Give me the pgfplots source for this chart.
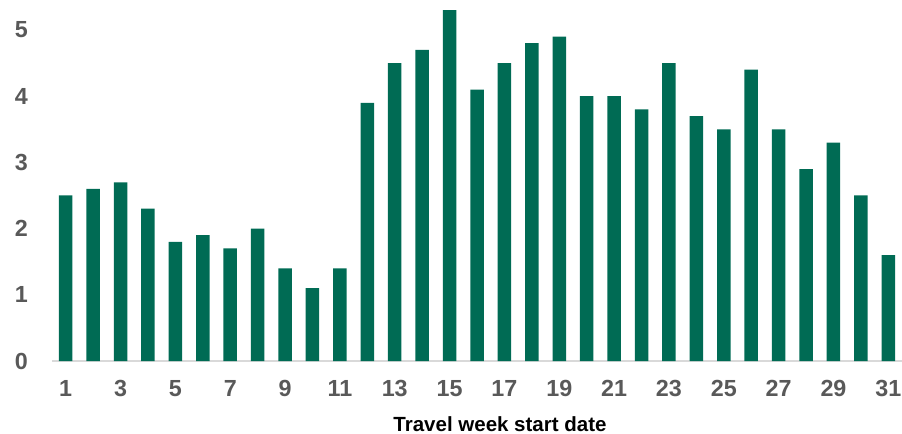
\documentclass[border=0pt]{standalone}
\usepackage{fontspec}
\setmainfont{Liberation Sans}
\usepackage{pgfplots}
\pgfplotsset{compat=1.18}
\definecolor{barg}{HTML}{006B54}
\definecolor{tickg}{HTML}{595959}
\definecolor{baseg}{HTML}{D9D9D9}
\begin{document}
\begin{tikzpicture}[x=1bp,y=1bp]
\begin{axis}[
  at={(52bp,-361bp)}, anchor=south west,
  scale only axis, width=850bp, height=360.8bp,
  xmin=0.5, xmax=31.5, ymin=0, ymax=5.45,
  enlargelimits=false,
  ybar, bar width=13.5bp,
  axis x line*=bottom, axis y line*=left,
  x axis line style={draw=baseg, line width=1.2bp, -},
  y axis line style={draw=none},
  xtick={1,3,...,31}, ytick={0,1,2,3,4,5},
  major tick length=0pt,
  /pgf/number format/assume math mode=true,
  ticklabel style={font=\fontsize{23.3bp}{28bp}\selectfont\bfseries, text=tickg, inner sep=0pt},
  xticklabel style={anchor=north, yshift=-19bp},
  yticklabel style={anchor=east, xshift=-24bp},
  xlabel={Travel week start date},
  xlabel style={at={(axis description cs:0.5,0)}, anchor=base, yshift=-70.5bp, xshift=23bp, inner sep=0pt, font=\fontsize{20.5bp}{24bp}\selectfont\bfseries, text=black},
]
\addplot[fill=barg, draw=none] coordinates {
(1,2.5) (2,2.6) (3,2.7) (4,2.3) (5,1.8) (6,1.9) (7,1.7) (8,2.0) (9,1.4) (10,1.1)
(11,1.4) (12,3.9) (13,4.5) (14,4.7) (15,5.3) (16,4.1) (17,4.5) (18,4.8) (19,4.9) (20,4.0)
(21,4.0) (22,3.8) (23,4.5) (24,3.7) (25,3.5) (26,4.4) (27,3.5) (28,2.9) (29,3.3) (30,2.5)
(31,1.6)
};
\end{axis}
\pgfresetboundingbox
\path[use as bounding box] (0,0) rectangle (902bp,-434bp);
\end{tikzpicture}
\end{document}
